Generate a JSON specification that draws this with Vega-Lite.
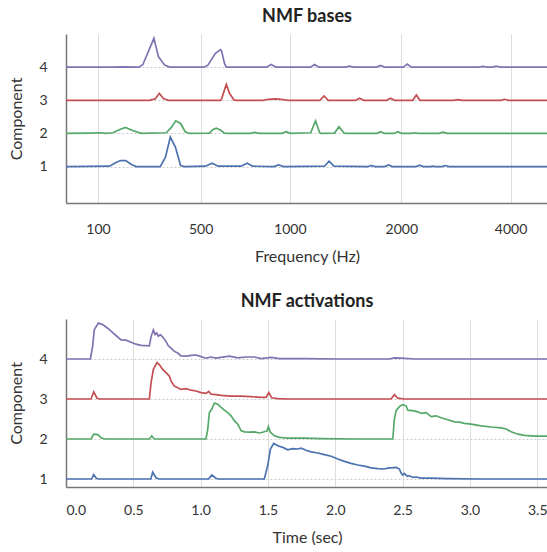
{
  "$schema": "https://vega.github.io/schema/vega-lite/v6.json",
  "padding": {"left": 8, "top": 8, "right": 0, "bottom": 0},
  "spacing": 29,
  "config": {
    "view": {"stroke": null},
    "font": "Lato",
    "title": {"fontSize": 18, "fontWeight": "bold", "color": "#222", "offset": 8},
    "axis": {
      "labelFont": "Lato", "labelFontSize": 14, "labelColor": "#333",
      "titleFont": "Lato", "titleFontSize": 16, "titleFontWeight": "normal", "titleColor": "#333",
      "ticks": false, "domainColor": "#777", "domainWidth": 1.5
    },
    "axisX": {"gridColor": "#dddddd", "gridWidth": 1, "labelPadding": 19, "titlePadding": 12},
    "axisY": {"gridColor": "#cccccc", "gridDash": [2, 2], "gridWidth": 1, "labelPadding": 19, "titlePadding": 14}
  },
  "datasets": {
    "bases": [
      {"component":"4","freq":60,"value":4.0},{"component":"4","freq":150,"value":4.0},{"component":"4","freq":200,"value":4.01},{"component":"4","freq":260,"value":4.0},{"component":"4","freq":275,"value":4.08},{"component":"4","freq":318,"value":4.87},{"component":"4","freq":336,"value":4.31},{"component":"4","freq":360,"value":4.06},{"component":"4","freq":379,"value":4.0},{"component":"4","freq":520,"value":4.0},{"component":"4","freq":541,"value":4.06},{"component":"4","freq":582,"value":4.41},{"component":"4","freq":612,"value":4.53},{"component":"4","freq":617,"value":4.5},{"component":"4","freq":634,"value":4.11},{"component":"4","freq":644,"value":4.0},{"component":"4","freq":870,"value":4.0},{"component":"4","freq":896,"value":4.08},{"component":"4","freq":922,"value":4.0},{"component":"4","freq":1185,"value":4.0},{"component":"4","freq":1222,"value":4.08},{"component":"4","freq":1260,"value":4.0},{"component":"4","freq":1500,"value":4.0},{"component":"4","freq":1536,"value":4.03},{"component":"4","freq":1572,"value":4.0},{"component":"4","freq":1778,"value":4.0},{"component":"4","freq":1814,"value":4.05},{"component":"4","freq":1850,"value":4.0},{"component":"4","freq":2040,"value":4.0},{"component":"4","freq":2110,"value":4.09},{"component":"4","freq":2180,"value":4.0},{"component":"4","freq":3420,"value":4.0},{"component":"4","freq":3495,"value":4.02},{"component":"4","freq":3570,"value":4.0},{"component":"4","freq":3660,"value":4.0},{"component":"4","freq":3738,"value":4.03},{"component":"4","freq":3810,"value":4.0},{"component":"4","freq":5000,"value":4.0},
      {"component":"3","freq":60,"value":3.0},{"component":"3","freq":300,"value":3.0},{"component":"3","freq":323,"value":3.04},{"component":"3","freq":339,"value":3.21},{"component":"3","freq":355,"value":3.05},{"component":"3","freq":375,"value":3.0},{"component":"3","freq":612,"value":3.0},{"component":"3","freq":618,"value":3.05},{"component":"3","freq":644,"value":3.48},{"component":"3","freq":662,"value":3.21},{"component":"3","freq":687,"value":3.01},{"component":"3","freq":700,"value":3.0},{"component":"3","freq":850,"value":3.0},{"component":"3","freq":880,"value":3.03},{"component":"3","freq":920,"value":3.04},{"component":"3","freq":950,"value":3.03},{"component":"3","freq":990,"value":3.0},{"component":"3","freq":1270,"value":3.0},{"component":"3","freq":1307,"value":3.13},{"component":"3","freq":1345,"value":3.0},{"component":"3","freq":1590,"value":3.0},{"component":"3","freq":1626,"value":3.06},{"component":"3","freq":1662,"value":3.0},{"component":"3","freq":1868,"value":3.0},{"component":"3","freq":1904,"value":3.06},{"component":"3","freq":1940,"value":3.0},{"component":"3","freq":2210,"value":3.0},{"component":"3","freq":2275,"value":3.16},{"component":"3","freq":2340,"value":3.0},{"component":"3","freq":2960,"value":3.0},{"component":"3","freq":3038,"value":3.02},{"component":"3","freq":3110,"value":3.0},{"component":"3","freq":3820,"value":3.0},{"component":"3","freq":3890,"value":3.03},{"component":"3","freq":3960,"value":3.0},{"component":"3","freq":5000,"value":3.0},
      {"component":"2","freq":60,"value":2.0},{"component":"2","freq":90,"value":2.01},{"component":"2","freq":110,"value":2.02},{"component":"2","freq":130,"value":2.0},{"component":"2","freq":158,"value":2.02},{"component":"2","freq":185,"value":2.12},{"component":"2","freq":207,"value":2.18},{"component":"2","freq":237,"value":2.08},{"component":"2","freq":269,"value":2.0},{"component":"2","freq":366,"value":2.02},{"component":"2","freq":386,"value":2.18},{"component":"2","freq":403,"value":2.38},{"component":"2","freq":422,"value":2.3},{"component":"2","freq":440,"value":2.05},{"component":"2","freq":455,"value":2.0},{"component":"2","freq":550,"value":2.01},{"component":"2","freq":570,"value":2.12},{"component":"2","freq":588,"value":2.16},{"component":"2","freq":610,"value":2.1},{"component":"2","freq":634,"value":2.01},{"component":"2","freq":650,"value":2.0},{"component":"2","freq":780,"value":2.0},{"component":"2","freq":803,"value":2.03},{"component":"2","freq":830,"value":2.0},{"component":"2","freq":955,"value":2.0},{"component":"2","freq":980,"value":2.05},{"component":"2","freq":1005,"value":2.0},{"component":"2","freq":1187,"value":2.02},{"component":"2","freq":1231,"value":2.38},{"component":"2","freq":1267,"value":2.03},{"component":"2","freq":1280,"value":2.0},{"component":"2","freq":1401,"value":2.01},{"component":"2","freq":1441,"value":2.2},{"component":"2","freq":1486,"value":2.01},{"component":"2","freq":1500,"value":2.0},{"component":"2","freq":1780,"value":2.0},{"component":"2","freq":1814,"value":2.05},{"component":"2","freq":1850,"value":2.0},{"component":"2","freq":1935,"value":2.0},{"component":"2","freq":1970,"value":2.05},{"component":"2","freq":2005,"value":2.0},{"component":"2","freq":2180,"value":2.0},{"component":"2","freq":2243,"value":2.02},{"component":"2","freq":2300,"value":2.0},{"component":"2","freq":2690,"value":2.0},{"component":"2","freq":2764,"value":2.04},{"component":"2","freq":2840,"value":2.0},{"component":"2","freq":5000,"value":2.0},
      {"component":"1","freq":60,"value":1.0},{"component":"1","freq":145,"value":1.01},{"component":"1","freq":170,"value":1.12},{"component":"1","freq":188,"value":1.18},{"component":"1","freq":208,"value":1.18},{"component":"1","freq":230,"value":1.06},{"component":"1","freq":249,"value":1.0},{"component":"1","freq":343,"value":1.0},{"component":"1","freq":363,"value":1.28},{"component":"1","freq":382,"value":1.89},{"component":"1","freq":402,"value":1.58},{"component":"1","freq":422,"value":1.03},{"component":"1","freq":438,"value":1.0},{"component":"1","freq":527,"value":1.01},{"component":"1","freq":564,"value":1.1},{"component":"1","freq":598,"value":1.01},{"component":"1","freq":726,"value":1.01},{"component":"1","freq":762,"value":1.1},{"component":"1","freq":791,"value":1.01},{"component":"1","freq":910,"value":1.0},{"component":"1","freq":937,"value":1.05},{"component":"1","freq":965,"value":1.0},{"component":"1","freq":1312,"value":1.01},{"component":"1","freq":1352,"value":1.16},{"component":"1","freq":1396,"value":1.01},{"component":"1","freq":1700,"value":1.0},{"component":"1","freq":1731,"value":1.03},{"component":"1","freq":1765,"value":1.0},{"component":"1","freq":1850,"value":1.0},{"component":"1","freq":1886,"value":1.05},{"component":"1","freq":1920,"value":1.0},{"component":"1","freq":2270,"value":1.0},{"component":"1","freq":2335,"value":1.04},{"component":"1","freq":2400,"value":1.0},{"component":"1","freq":2540,"value":1.0},{"component":"1","freq":2580,"value":1.01},{"component":"1","freq":2620,"value":1.0},{"component":"1","freq":2740,"value":1.0},{"component":"1","freq":2805,"value":1.03},{"component":"1","freq":2870,"value":1.0},{"component":"1","freq":5000,"value":1.0}
    ],
    "acts": [
      {"component":"4","time":0,"value":4.0},{"component":"4","time":0.181,"value":4.0},{"component":"4","time":0.198,"value":4.32},{"component":"4","time":0.21,"value":4.73},{"component":"4","time":0.24,"value":4.9},{"component":"4","time":0.272,"value":4.86},{"component":"4","time":0.31,"value":4.77},{"component":"4","time":0.347,"value":4.66},{"component":"4","time":0.384,"value":4.55},{"component":"4","time":0.409,"value":4.48},{"component":"4","time":0.446,"value":4.47},{"component":"4","time":0.483,"value":4.42},{"component":"4","time":0.52,"value":4.37},{"component":"4","time":0.557,"value":4.34},{"component":"4","time":0.619,"value":4.33},{"component":"4","time":0.632,"value":4.56},{"component":"4","time":0.649,"value":4.73},{"component":"4","time":0.661,"value":4.61},{"component":"4","time":0.674,"value":4.65},{"component":"4","time":0.686,"value":4.57},{"component":"4","time":0.701,"value":4.61},{"component":"4","time":0.718,"value":4.55},{"component":"4","time":0.743,"value":4.44},{"component":"4","time":0.76,"value":4.33},{"component":"4","time":0.78,"value":4.27},{"component":"4","time":0.805,"value":4.19},{"component":"4","time":0.83,"value":4.15},{"component":"4","time":0.854,"value":4.08},{"component":"4","time":0.892,"value":4.07},{"component":"4","time":0.929,"value":4.09},{"component":"4","time":0.966,"value":4.1},{"component":"4","time":1.003,"value":4.06},{"component":"4","time":1.04,"value":4.02},{"component":"4","time":1.077,"value":4.05},{"component":"4","time":1.114,"value":4.02},{"component":"4","time":1.152,"value":4.04},{"component":"4","time":1.213,"value":4.07},{"component":"4","time":1.276,"value":4.03},{"component":"4","time":1.337,"value":4.05},{"component":"4","time":1.399,"value":4.05},{"component":"4","time":1.449,"value":4.01},{"component":"4","time":1.523,"value":4.04},{"component":"4","time":1.585,"value":4.01},{"component":"4","time":1.771,"value":4.01},{"component":"4","time":2.02,"value":4.0},{"component":"4","time":2.4,"value":4.0},{"component":"4","time":2.44,"value":4.03},{"component":"4","time":2.49,"value":4.02},{"component":"4","time":2.59,"value":4.0},{"component":"4","time":3.58,"value":4.0},
      {"component":"3","time":0,"value":3.0},{"component":"3","time":0.186,"value":3.0},{"component":"3","time":0.206,"value":3.18},{"component":"3","time":0.23,"value":3.02},{"component":"3","time":0.25,"value":3.0},{"component":"3","time":0.619,"value":3.0},{"component":"3","time":0.632,"value":3.41},{"component":"3","time":0.649,"value":3.74},{"component":"3","time":0.676,"value":3.91},{"component":"3","time":0.693,"value":3.86},{"component":"3","time":0.718,"value":3.74},{"component":"3","time":0.743,"value":3.66},{"component":"3","time":0.768,"value":3.57},{"component":"3","time":0.78,"value":3.45},{"component":"3","time":0.805,"value":3.32},{"component":"3","time":0.83,"value":3.28},{"component":"3","time":0.854,"value":3.24},{"component":"3","time":0.892,"value":3.26},{"component":"3","time":0.929,"value":3.22},{"component":"3","time":0.966,"value":3.2},{"component":"3","time":1.003,"value":3.16},{"component":"3","time":1.04,"value":3.14},{"component":"3","time":1.06,"value":3.19},{"component":"3","time":1.077,"value":3.12},{"component":"3","time":1.114,"value":3.11},{"component":"3","time":1.152,"value":3.09},{"component":"3","time":1.226,"value":3.07},{"component":"3","time":1.3,"value":3.07},{"component":"3","time":1.374,"value":3.06},{"component":"3","time":1.449,"value":3.04},{"component":"3","time":1.486,"value":3.04},{"component":"3","time":1.506,"value":3.16},{"component":"3","time":1.528,"value":3.03},{"component":"3","time":1.573,"value":3.01},{"component":"3","time":1.647,"value":3.0},{"component":"3","time":2.414,"value":3.0},{"component":"3","time":2.44,"value":3.11},{"component":"3","time":2.464,"value":3.02},{"component":"3","time":2.513,"value":3.0},{"component":"3","time":3.58,"value":3.0},
      {"component":"2","time":0,"value":2.0},{"component":"2","time":0.186,"value":2.0},{"component":"2","time":0.206,"value":2.12},{"component":"2","time":0.236,"value":2.11},{"component":"2","time":0.26,"value":2.03},{"component":"2","time":0.29,"value":2.0},{"component":"2","time":0.62,"value":2.0},{"component":"2","time":0.637,"value":2.08},{"component":"2","time":0.656,"value":2.0},{"component":"2","time":1.04,"value":2.0},{"component":"2","time":1.053,"value":2.25},{"component":"2","time":1.065,"value":2.66},{"component":"2","time":1.083,"value":2.75},{"component":"2","time":1.102,"value":2.9},{"component":"2","time":1.127,"value":2.87},{"component":"2","time":1.152,"value":2.79},{"component":"2","time":1.176,"value":2.72},{"component":"2","time":1.201,"value":2.66},{"component":"2","time":1.226,"value":2.58},{"component":"2","time":1.25,"value":2.46},{"component":"2","time":1.276,"value":2.37},{"component":"2","time":1.3,"value":2.21},{"component":"2","time":1.325,"value":2.18},{"component":"2","time":1.362,"value":2.17},{"component":"2","time":1.399,"value":2.18},{"component":"2","time":1.436,"value":2.15},{"component":"2","time":1.473,"value":2.18},{"component":"2","time":1.493,"value":2.2},{"component":"2","time":1.503,"value":2.31},{"component":"2","time":1.518,"value":2.17},{"component":"2","time":1.548,"value":2.08},{"component":"2","time":1.585,"value":2.04},{"component":"2","time":1.647,"value":2.02},{"component":"2","time":1.771,"value":2.02},{"component":"2","time":1.895,"value":2.01},{"component":"2","time":2.142,"value":2.0},{"component":"2","time":2.427,"value":2.0},{"component":"2","time":2.439,"value":2.5},{"component":"2","time":2.452,"value":2.71},{"component":"2","time":2.476,"value":2.81},{"component":"2","time":2.501,"value":2.86},{"component":"2","time":2.526,"value":2.83},{"component":"2","time":2.539,"value":2.72},{"component":"2","time":2.576,"value":2.71},{"component":"2","time":2.613,"value":2.68},{"component":"2","time":2.637,"value":2.64},{"component":"2","time":2.675,"value":2.66},{"component":"2","time":2.712,"value":2.56},{"component":"2","time":2.749,"value":2.58},{"component":"2","time":2.786,"value":2.53},{"component":"2","time":2.836,"value":2.48},{"component":"2","time":2.885,"value":2.43},{"component":"2","time":2.922,"value":2.42},{"component":"2","time":2.959,"value":2.39},{"component":"2","time":3.009,"value":2.37},{"component":"2","time":3.083,"value":2.33},{"component":"2","time":3.157,"value":2.3},{"component":"2","time":3.232,"value":2.28},{"component":"2","time":3.269,"value":2.25},{"component":"2","time":3.306,"value":2.18},{"component":"2","time":3.356,"value":2.12},{"component":"2","time":3.405,"value":2.09},{"component":"2","time":3.479,"value":2.07},{"component":"2","time":3.58,"value":2.07},
      {"component":"1","time":0,"value":1.0},{"component":"1","time":0.19,"value":1.0},{"component":"1","time":0.206,"value":1.11},{"component":"1","time":0.225,"value":1.02},{"component":"1","time":0.24,"value":1.0},{"component":"1","time":0.63,"value":1.0},{"component":"1","time":0.644,"value":1.17},{"component":"1","time":0.669,"value":1.03},{"component":"1","time":0.69,"value":1.0},{"component":"1","time":1.06,"value":1.0},{"component":"1","time":1.083,"value":1.1},{"component":"1","time":1.114,"value":1.02},{"component":"1","time":1.13,"value":1.0},{"component":"1","time":1.473,"value":1.0},{"component":"1","time":1.498,"value":1.33},{"component":"1","time":1.518,"value":1.75},{"component":"1","time":1.543,"value":1.89},{"component":"1","time":1.573,"value":1.83},{"component":"1","time":1.61,"value":1.79},{"component":"1","time":1.647,"value":1.73},{"component":"1","time":1.684,"value":1.76},{"component":"1","time":1.721,"value":1.75},{"component":"1","time":1.746,"value":1.77},{"component":"1","time":1.783,"value":1.72},{"component":"1","time":1.82,"value":1.68},{"component":"1","time":1.87,"value":1.65},{"component":"1","time":1.919,"value":1.61},{"component":"1","time":1.969,"value":1.57},{"component":"1","time":2.019,"value":1.5},{"component":"1","time":2.068,"value":1.44},{"component":"1","time":2.117,"value":1.39},{"component":"1","time":2.167,"value":1.35},{"component":"1","time":2.216,"value":1.32},{"component":"1","time":2.266,"value":1.28},{"component":"1","time":2.316,"value":1.26},{"component":"1","time":2.365,"value":1.25},{"component":"1","time":2.39,"value":1.27},{"component":"1","time":2.452,"value":1.29},{"component":"1","time":2.476,"value":1.25},{"component":"1","time":2.489,"value":1.15},{"component":"1","time":2.501,"value":1.1},{"component":"1","time":2.513,"value":1.14},{"component":"1","time":2.533,"value":1.07},{"component":"1","time":2.551,"value":1.08},{"component":"1","time":2.576,"value":1.04},{"component":"1","time":2.6,"value":1.05},{"component":"1","time":2.637,"value":1.02},{"component":"1","time":2.712,"value":1.02},{"component":"1","time":2.836,"value":1.01},{"component":"1","time":3.083,"value":1.0},{"component":"1","time":3.58,"value":1.0}
    ]
  },
  "vconcat": [
    {
      "title": "NMF bases",
      "width": 482,
      "height": 169,
      "data": {"name": "bases"},
      "mark": {"type": "line", "strokeWidth": 1.7},
      "encoding": {
        "x": {"field": "freq", "type": "quantitative", "title": "Frequency (Hz)",
              "scale": {"domain": [60, 100, 500, 1000, 2000, 4000, 5000], "range": [0, 32, 134.6, 223.8, 335.3, 444.6, 482], "nice": false, "zero": false},
              "axis": {"values": [100, 500, 1000, 2000, 4000], "format": "d"}},
        "y": {"field": "value", "type": "quantitative", "title": "Component",
              "scale": {"domain": [-0.1, 5], "nice": false, "zero": false},
              "axis": {"values": [1, 2, 3, 4], "format": "d"}},
        "color": {"field": "component", "type": "nominal",
                  "scale": {"domain": ["1", "2", "3", "4"], "range": ["#4C72B0", "#55A868", "#C44E52", "#8172B2"]},
                  "legend": null}
      }
    },
    {
      "title": "NMF activations",
      "width": 482,
      "height": 168,
      "data": {"name": "acts"},
      "mark": {"type": "line", "strokeWidth": 1.7},
      "encoding": {
        "x": {"field": "time", "type": "quantitative", "title": "Time (sec)",
              "scale": {"domain": [0, 3.58], "nice": false, "zero": false},
              "axis": {"values": [0, 0.5, 1, 1.5, 2, 2.5, 3, 3.5], "format": ".1f", "labelPadding": 16}},
        "y": {"field": "value", "type": "quantitative", "title": "Component",
              "scale": {"domain": [0.8, 5], "nice": false, "zero": false},
              "axis": {"values": [1, 2, 3, 4], "format": "d"}},
        "color": {"field": "component", "type": "nominal",
                  "scale": {"domain": ["1", "2", "3", "4"], "range": ["#4C72B0", "#55A868", "#C44E52", "#8172B2"]},
                  "legend": null}
      }
    }
  ]
}
